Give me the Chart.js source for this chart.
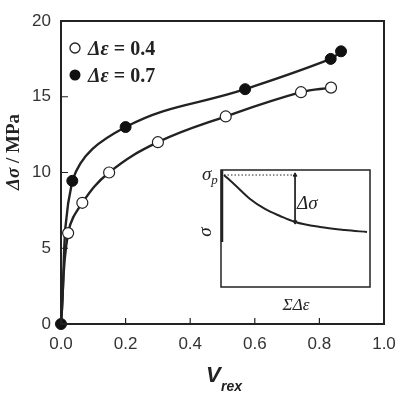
<!DOCTYPE html>
<html>
<head>
<meta charset="utf-8">
<script src="https://cdn.jsdelivr.net/npm/chart.js@4"></script>
<style>
  html, body { margin: 0; padding: 0; background: #fff; }
  #wrap { position: relative; width: 400px; height: 394px; }
  #main { position: absolute; left: 0; top: 0; }
  #inset { position: absolute; left: 200px; top: 160px; }
</style>
</head>
<body>
<div id="wrap">
  <canvas id="main" width="400" height="394"></canvas>
  <canvas id="inset" width="180" height="160"></canvas>
</div>
<script>
// strain amplitude 0.4 (open circles)
const openX = [0, 0.022, 0.066, 0.149, 0.30, 0.51, 0.743, 0.836];
const openY = [0, 6.0, 8.0, 10.0, 12.0, 13.7, 15.3, 15.6];
// strain amplitude 0.7 (filled circles)
const filledX = [0, 0.035, 0.20, 0.57, 0.835, 0.867];
const filledY = [0, 9.45, 13.0, 15.5, 17.5, 18.0];

const xTicks = [0, 0.2, 0.4, 0.6, 0.8, 1.0];
const yTicks = [0, 5, 10, 15, 20];

// inset: schematic stress decay
const insetX = [0.02, 0.094, 0.195, 0.295, 0.396, 0.497, 0.664, 0.832, 0.98];
const insetY = [0.957, 0.872, 0.752, 0.667, 0.607, 0.556, 0.513, 0.487, 0.47];
const peakLineX = [0.02, 0.497];
const peakLineY = [0.957, 0.957];
const dropX = [0.497, 0.497];
const dropY = [0.957, 0.556];

const ink = "#222";
const serif = '"Liberation Serif", "Times New Roman", serif';
const sans = '"Liberation Sans", Arial, sans-serif';

const pts = (xs, ys) => xs.map((x, i) => ({ x, y: ys[i] }));

function richText(ctx, parts, x, y, align) {
  let w = 0;
  parts.forEach(p => { ctx.font = p.f; w += ctx.measureText(p.t).width; });
  let cx = align === "center" ? x - w / 2 : x;
  parts.forEach(p => {
    ctx.font = p.f;
    ctx.fillText(p.t, cx, y + (p.dy || 0));
    cx += ctx.measureText(p.t).width;
  });
}

const frame = {
  id: "frame",
  afterDraw(chart) {
    const { ctx, chartArea: a, scales } = chart;
    ctx.save();
    ctx.strokeStyle = ink;
    ctx.lineWidth = 2;
    ctx.strokeRect(a.left, a.top, a.right - a.left, a.bottom - a.top);
    // inward ticks
    ctx.lineWidth = 1.2;
    ctx.beginPath();
    scales.x.ticks.forEach(t => {
      const px = scales.x.getPixelForValue(t.value);
      ctx.moveTo(px, a.bottom); ctx.lineTo(px, a.bottom - 6);
    });
    scales.y.ticks.forEach(t => {
      const py = scales.y.getPixelForValue(t.value);
      ctx.moveTo(a.left, py); ctx.lineTo(a.left + 7, py);
    });
    ctx.stroke();

    // legend
    ctx.textBaseline = "alphabetic";
    ctx.beginPath();
    ctx.arc(75, 48, 5, 0, Math.PI * 2);
    ctx.fillStyle = "#fff"; ctx.fill();
    ctx.lineWidth = 1.3; ctx.strokeStyle = ink; ctx.stroke();
    ctx.beginPath();
    ctx.arc(75, 75, 5.5, 0, Math.PI * 2);
    ctx.fillStyle = "#111"; ctx.fill();
    ctx.fillStyle = ink;
    const fi = "italic bold 20px " + serif, fb = "bold 20px " + serif;
    richText(ctx, [{ t: "\u0394\u03b5", f: fi }, { t: " = 0.4", f: fb }], 88, 55);
    richText(ctx, [{ t: "\u0394\u03b5", f: fi }, { t: " = 0.7", f: fb }], 88, 82);

    // y title
    ctx.save();
    ctx.translate(19, 152);
    ctx.rotate(-Math.PI / 2);
    richText(ctx, [{ t: "\u0394\u03c3", f: "italic bold 19px " + serif }, { t: " / MPa", f: "bold 19px " + serif }], 0, 0, "center");
    ctx.restore();

    // x title
    ctx.font = "italic bold 22px " + sans;
    ctx.fillText("V", 206, 382);
    ctx.font = "italic bold 14px " + sans;
    ctx.fillText("rex", 221, 391);
    ctx.restore();
  }
};

new Chart(document.getElementById("main"), {
  type: "scatter",
  data: {
    datasets: [
      {
        label: "\u0394\u03b5 = 0.4",
        data: pts(openX, openY),
        showLine: true,
        tension: 0.4,
        borderColor: ink,
        borderWidth: 2.4,
        pointRadius: c => (c.dataIndex === 0 ? 0 : 5.5),
        pointBackgroundColor: "#fff",
        pointBorderColor: ink,
        pointBorderWidth: 1.2
      },
      {
        label: "\u0394\u03b5 = 0.7",
        data: pts(filledX, filledY),
        showLine: true,
        tension: 0.4,
        borderColor: ink,
        borderWidth: 2.4,
        pointRadius: 5.5,
        pointBackgroundColor: "#111",
        pointBorderColor: "#111",
        pointBorderWidth: 1
      }
    ]
  },
  options: {
    responsive: false,
    animation: false,
    clip: false,
    layout: { padding: { top: 21, right: 16, left: 0, bottom: 0 } },
    plugins: { legend: { display: false }, tooltip: { enabled: false } },
    scales: {
      x: {
        type: "linear",
        min: 0, max: 1,
        afterBuildTicks: s => { s.ticks = xTicks.map(v => ({ value: v })); },
        afterFit: s => { s.height = 70; s.paddingLeft = 0; s.paddingRight = 0; },
        grid: { display: false, drawTicks: false },
        border: { display: false },
        ticks: { color: "#333", padding: 10, font: { family: sans, size: 17 }, callback: v => v.toFixed(1) }
      },
      y: {
        type: "linear",
        min: 0, max: 20,
        afterBuildTicks: s => { s.ticks = yTicks.map(v => ({ value: v })); },
        afterFit: s => { s.width = 61; s.paddingTop = 0; s.paddingBottom = 0; },
        grid: { display: false, drawTicks: false },
        border: { display: false },
        ticks: { color: "#333", padding: 10, font: { family: sans, size: 17 } }
      }
    }
  },
  plugins: [frame]
});

const insetDeco = {
  id: "insetDeco",
  beforeDraw(chart) {
    const { ctx, chartArea: a } = chart;
    ctx.save();
    ctx.fillStyle = "#fff";
    ctx.fillRect(a.left, a.top, a.right - a.left, a.bottom - a.top);
    ctx.restore();
  },
  afterDraw(chart) {
    const { ctx, chartArea: a } = chart;
    ctx.save();
    ctx.strokeStyle = ink;
    ctx.lineWidth = 1.5;
    ctx.strokeRect(a.left, a.top, a.right - a.left, a.bottom - a.top);
    ctx.lineWidth = 2.5;
    ctx.beginPath();
    ctx.moveTo(a.left + 1, a.top); ctx.lineTo(a.left + 1, a.top + 72);
    ctx.stroke();
    ctx.fillStyle = ink;
    ctx.textBaseline = "alphabetic";
    richText(ctx, [{ t: "\u03c3", f: "italic 19px " + serif }, { t: "p", f: "italic 13px " + serif, dy: 4 }], 2, 20);
    ctx.save();
    ctx.translate(11, 72);
    ctx.rotate(-Math.PI / 2);
    ctx.font = "italic 19px " + serif;
    ctx.textAlign = "center";
    ctx.fillText("\u03c3", 0, 0);
    ctx.restore();
    ctx.font = "italic 19px " + serif;
    ctx.fillText("\u0394\u03c3", 97, 49);
    richText(ctx, [{ t: "\u03a3\u0394\u03b5", f: "italic 17px " + serif }], 96, 150, "center");
    ctx.restore();
  }
};

new Chart(document.getElementById("inset"), {
  type: "scatter",
  data: {
    datasets: [
      {
        data: pts(insetX, insetY),
        showLine: true,
        cubicInterpolationMode: "monotone",
        borderColor: ink,
        borderWidth: 2,
        pointRadius: 0
      },
      {
        data: pts(peakLineX, peakLineY),
        showLine: true,
        borderColor: ink,
        borderWidth: 1,
        borderDash: [1.5, 2],
        pointRadius: 0
      },
      {
        data: pts(dropX, dropY),
        showLine: true,
        borderColor: ink,
        borderWidth: 1,
        pointStyle: "triangle",
        pointRadius: 2.2,
        pointRotation: c => (c.dataIndex === 0 ? 0 : 180),
        pointBackgroundColor: ink,
        pointBorderColor: ink
      }
    ]
  },
  options: {
    responsive: false,
    animation: false,
    layout: { padding: { left: 21, top: 10, right: 10, bottom: 33 } },
    plugins: { legend: { display: false }, tooltip: { enabled: false } },
    scales: {
      x: { type: "linear", min: 0, max: 1, display: false },
      y: { type: "linear", min: 0, max: 1, display: false }
    }
  },
  plugins: [insetDeco]
});
</script>
</body>
</html>
